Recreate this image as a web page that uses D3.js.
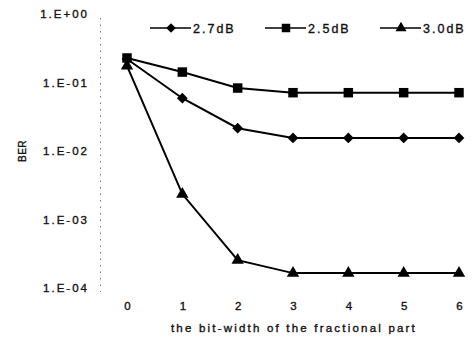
<!DOCTYPE html>
<html>
<head>
<meta charset="utf-8">
<script src="https://cdn.jsdelivr.net/npm/d3@7"></script>
<style>
  html, body { margin: 0; padding: 0; background: #fff; }
  svg text { font-family: "Liberation Sans", Arial, sans-serif; fill: #111; stroke: #111; stroke-width: 0.35px; }
</style>
</head>
<body>
<svg id="chart" width="476" height="340"></svg>
<script>
// Bit-width of the fractional part (x categories)
const bitWidths = [0, 1, 2, 3, 4, 5, 6];

// BER per Eb/N0 setting
const ber27 = [0.22, 0.059, 0.0215, 0.0155, 0.0155, 0.0155, 0.0155];
const ber25 = [0.228, 0.142, 0.083, 0.071, 0.071, 0.071, 0.071];
const ber30 = [0.175, 0.00235, 0.000255, 0.000165, 0.000165, 0.000165, 0.000165];

const seriesNames = ["2.7dB", "2.5dB", "3.0dB"];
const seriesValues = [ber27, ber25, ber30];
// diamond is drawn as a square turned by 45 degrees
const seriesSymbols = [d3.symbolSquare, d3.symbolSquare, d3.symbolTriangle];
const seriesRotate = [45, 0, 0];

const yTickValues = [1, 1e-1, 1e-2, 1e-3, 1e-4];
const yTickLabels = ["1.E+00", "1.E-01", "1.E-02", "1.E-03", "1.E-04"];

const svg = d3.select("#chart");

const x = d3.scaleLinear().domain([0, 6]).range([127, 459]);
const y = d3.scaleLog().domain([1, 1e-4]).range([14, 288]);

const fontStyle = sel => sel.style("font-size", "11.5px").style("letter-spacing", "2px");

// Dotted y axis line
svg.append("line")
  .attr("x1", 100.5).attr("x2", 100.5)
  .attr("y1", y(1) + 4).attr("y2", y(1e-4) + 4)
  .attr("stroke", "#777").attr("stroke-width", 1)
  .attr("stroke-dasharray", "1.5,5");

const yAxis = d3.axisLeft(y)
  .tickValues(yTickValues)
  .tickFormat((d, i) => yTickLabels[i])
  .tickSize(0)
  .tickPadding(12);

const gy = svg.append("g").attr("transform", "translate(100,0)").call(yAxis);
gy.select(".domain").remove();
gy.selectAll("text").call(fontStyle).attr("x", -11);

const xAxis = d3.axisBottom(x)
  .tickValues(bitWidths)
  .tickFormat(d3.format("d"))
  .tickSize(0)
  .tickPadding(0);

const gx = svg.append("g").attr("transform", "translate(1,302)").call(xAxis);
gx.select(".domain").remove();
gx.selectAll("text").call(fontStyle).attr("dy", "0.71em");

// Axis titles
svg.append("text")
  .attr("x", 294).attr("y", 332)
  .attr("text-anchor", "middle")
  .call(fontStyle)
  .style("letter-spacing", "2.2px")
  .text("the bit-width of the fractional part");

svg.append("text")
  .attr("transform", "translate(26,151) rotate(-90)")
  .attr("text-anchor", "middle")
  .style("font-size", "10px").style("letter-spacing", "0.5px")
  .text("BER");

// Series lines and markers
const line = d3.line()
  .x((d, i) => x(bitWidths[i]))
  .y(d => y(d));

const markerSizes = [58, 90, 66];

seriesValues.forEach((vals, si) => {
  const g = svg.append("g");
  g.append("path")
    .datum(vals)
    .attr("d", line)
    .attr("fill", "none")
    .attr("stroke", "#000")
    .attr("stroke-width", 2);
  g.selectAll("path.pt")
    .data(vals)
    .join("path")
    .attr("class", "pt")
    .attr("transform", (d, i) => `translate(${x(bitWidths[i])},${y(d)}) rotate(${seriesRotate[si]})`)
    .attr("d", d3.symbol().type(seriesSymbols[si]).size(markerSizes[si]))
    .attr("fill", "#000");
});

// Legend
const legendX = [150, 265, 380];
const legendY = 28;
seriesNames.forEach((name, si) => {
  const g = svg.append("g").attr("transform", `translate(${legendX[si]},${legendY})`);
  g.append("line")
    .attr("x1", 0).attr("x2", 41)
    .attr("y1", 0).attr("y2", 0)
    .attr("stroke", "#000").attr("stroke-width", 1.6);
  g.append("path")
    .attr("transform", `translate(21,0) rotate(${seriesRotate[si]})`)
    .attr("d", d3.symbol().type(seriesSymbols[si]).size(markerSizes[si] * 0.8))
    .attr("fill", "#000");
  g.append("text")
    .attr("x", 43).attr("y", 4.5)
    .call(fontStyle)
    .style("font-size", "12.5px")
    .style("letter-spacing", "2px")
    .text(name);
});
</script>
</body>
</html>
